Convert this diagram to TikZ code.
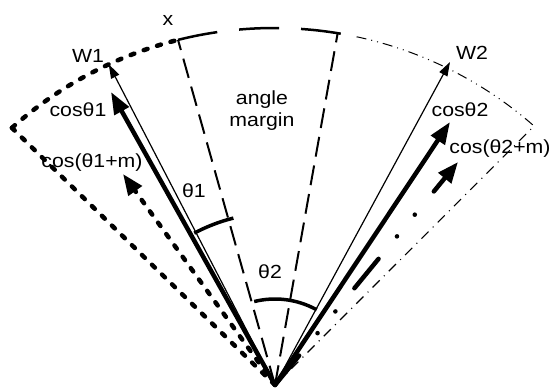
\documentclass[tikz,border=0pt]{standalone}
\usepackage{fontspec}
\setmainfont{Liberation Sans}[FakeStretch=1.12]
\usepackage{tikz}
\usetikzlibrary{arrows.meta, calc}

\begin{document}
\begin{tikzpicture}[
  x=1pt, y=1pt,
  lbl/.style={font=\fontsize{19}{22}\selectfont, inner sep=0pt, align=center},
  thinarr/.style={-{Triangle[length=14pt, width=9pt]}, line width=1.2pt},
  thickarr/.style={-{Triangle[length=22pt, width=16pt]}, line width=4.5pt},
  dotline/.style={line width=4.5pt, line cap=round, dash pattern=on 4pt off 10pt},
  longdash/.style={line width=2pt, dash pattern=on 20pt off 9pt},
  arcdash/.style={line width=2.5pt, dash pattern=on 40pt off 22pt},
  dashdotdot/.style={line width=1pt, dash pattern=on 10pt off 5pt on 1pt off 5pt on 1pt off 5pt},
  dashdot/.style={line width=1.1pt, dash pattern=on 10pt off 6pt on 1pt off 6pt},
  marginline/.style={line width=4.5pt, line cap=round, dash pattern=on 38pt off 29pt on 0.1pt off 28pt on 0.1pt off 30pt},
  anglearc/.style={line width=3.5pt},
]
\useasboundingbox (0,0) rectangle (551,388);

% === Origin and outer boundary ===
\coordinate (O) at (275,3);
\coordinate (C) at (274,-34);
\coordinate (L) at ($(C)+(131.7:394)$);
\coordinate (X) at ($(C)+(104.1:394)$);
\coordinate (M) at ($(C)+(80.7:394)$);
\coordinate (J) at ($(C)+(77.9:394)$);
\coordinate (R) at ($(C)+(48.7:394)$);

% class 1 region (dotted)
\draw[dotline] (O) -- (L);
\draw[dotline] (L) arc[start angle=131.7, end angle=104.1, radius=394];

% angle margin region (dashed)
\draw[arcdash] (X) arc[start angle=104.1, end angle=77.9, radius=394];
\draw[longdash] (O) -- (X);
\draw[longdash] (O) -- (M);

% class 2 region (dash-dot)
\draw[dashdotdot] (J) arc[start angle=77.9, end angle=48.7, radius=394];
\draw[dashdot] (O) -- (R);

% === Weight vectors ===
\coordinate (w1) at ($(C)+(114.8:394)$);
\coordinate (w2) at (450,326);
\draw[thinarr] (O) -- (w1);
\draw[thinarr] (O) -- (w2);

% === Logits ===
\coordinate (c1) at (111,296);
\coordinate (c1m) at (123,214);
\coordinate (c2) at (450,266);
\coordinate (c2m) at (458,226);
\draw[thickarr] (O) -- (c1);
\draw[dotline, -{Triangle[length=21pt, width=16pt]}] (O) -- (c1m);
\draw[thickarr] (O) -- (c2);
\draw[marginline, -{Triangle[length=21pt, width=16pt]}] (O) -- (c2m);

% === Angles ===
\draw[anglearc] ($(O)+(118:172)$) arc[start angle=118, end angle=104, radius=172];
\draw[anglearc] ($(O)+(104:86)$) arc[start angle=104, end angle=61, radius=86];

% === Labels ===
\node[lbl] (xlbl) at (168,368) {x};
\node[lbl] (w1lbl) at (88,332) {W1};
\node[lbl] (w2lbl) at (472,335) {W2};
\node[lbl] (c1lbl) at (78,278) {cosθ1};
\node[lbl] (c1mlbl) at (92,225) {cos(θ1+m)};
\node[lbl] (c2lbl) at (460,278) {cosθ2};
\node[lbl] (c2mlbl) at (500,239) {cos(θ2+m)};
\node[lbl] (t1lbl) at (194,197) {θ1};
\node[lbl] (t2lbl) at (270,116) {θ2};
\node[lbl] (mlbl) at (262,277) {angle\\margin};

\end{tikzpicture}
\end{document}
